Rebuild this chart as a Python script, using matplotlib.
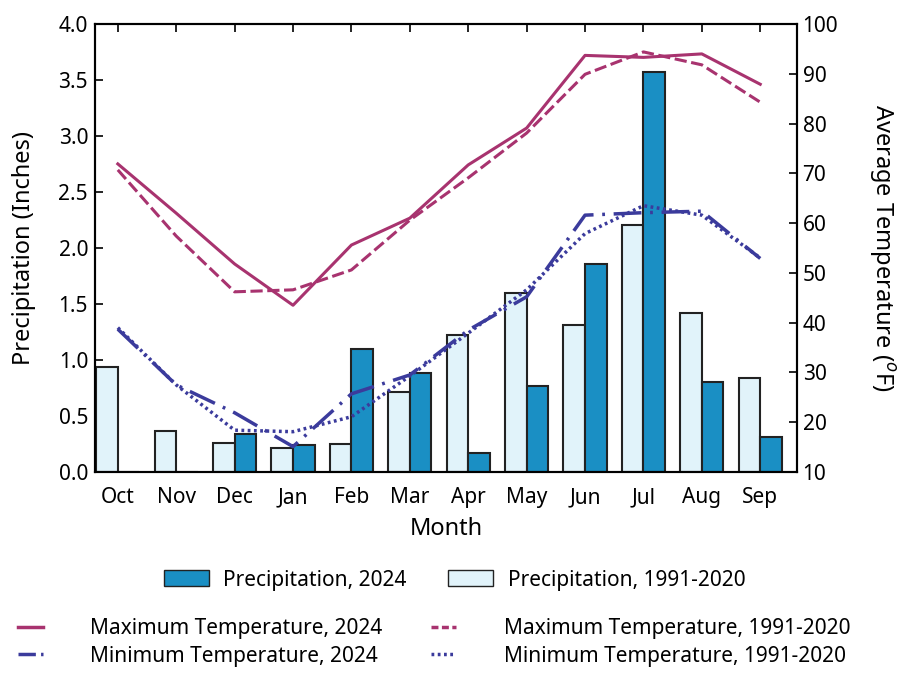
import numpy as np
import matplotlib.pyplot as plt
from matplotlib.lines import Line2D
from matplotlib.patches import Patch

months = ['Oct', 'Nov', 'Dec', 'Jan', 'Feb', 'Mar', 'Apr', 'May', 'Jun', 'Jul', 'Aug', 'Sep']

# precipitation (inches)
precip_2024 = [0.0, 0.0, 0.34, 0.24, 1.10, 0.88, 0.17, 0.77, 1.86, 3.57, 0.80, 0.31]
precip_norm = [0.94, 0.37, 0.26, 0.21, 0.25, 0.71, 1.22, 1.60, 1.31, 2.21, 1.42, 0.84]

# temperatures (F)
tmax_2024 = [71.9, 62.0, 51.8, 43.5, 55.6, 61.0, 71.7, 79.1, 93.7, 93.3, 94.0, 87.9]
tmax_norm = [70.7, 57.4, 46.2, 46.6, 50.6, 60.6, 69.1, 78.1, 89.9, 94.4, 91.8, 84.3]
tmin_2024 = [38.7, 27.5, 21.9, 15.1, 25.7, 29.5, 38.5, 45.2, 61.6, 62.1, 62.4, 52.9]
tmin_norm = [39.0, 27.5, 18.4, 18.1, 21.1, 29.3, 37.9, 46.6, 57.9, 63.5, 61.6, 53.0]

plt.rcParams['font.family'] = ['Noto Sans', 'DejaVu Sans']

c_dark = '#1a8fc4'
c_light = '#e1f3fa'
c_max = '#a8336f'
c_min = '#3b3b9c'
ls_min24 = (0, (8, 2.5, 0.8, 2.5))
ls_min_n = (0, (0.8, 1.0))

x = np.arange(len(months))
w = 0.37

fig = plt.figure(figsize=(9, 6.77), dpi=100)
ax = fig.add_axes([0.1056, 0.3028, 0.78, 0.6617])
ax.bar(x - w/2, precip_norm, w, color=c_light, edgecolor='#222222', linewidth=1.5, zorder=2)
ax.bar(x + w/2, precip_2024, w, color=c_dark, edgecolor='#222222', linewidth=1.5, zorder=2)
ax.set_xlim(-0.39, 11.63)
ax.set_ylim(0, 4.0)
ax.set_yticks(np.arange(0, 4.01, 0.5))
ax.set_yticklabels(['%.1f' % v for v in np.arange(0, 4.01, 0.5)])
ax.set_xticks(x)
ax.set_xticklabels(months)
ax.set_xlabel('Month', fontsize=17, labelpad=6)
ax.set_ylabel('Precipitation (Inches)', fontsize=17, labelpad=16)
ax.tick_params(direction='in', length=6, width=1.2, labelsize=15, top=True)
ax.tick_params(axis='x', pad=11)
ax.tick_params(axis='y', pad=5)

ax2 = ax.twinx()
ax2.plot(x, tmax_2024, color=c_max, lw=2.2, zorder=3)
ax2.plot(x, tmax_norm, color=c_max, lw=2.2, ls=(0, (4, 1.5)), zorder=3)
ax2.plot(x, tmin_2024, color=c_min, lw=2.5, ls=ls_min24, zorder=3)
ax2.plot(x, tmin_norm, color=c_min, lw=2.5, ls=ls_min_n, zorder=3)
ax2.set_ylim(10, 100)
ax2.set_yticks(range(10, 101, 10))
ax2.set_ylabel('Average Temperature ($^o$F)', fontsize=17, rotation=270, labelpad=42)
ax2.tick_params(direction='in', length=6, width=1.2, labelsize=15, pad=4)

for a in (ax, ax2):
    for s in a.spines.values():
        s.set_linewidth(1.5)

bar_handles = [Patch(facecolor=c_dark, edgecolor='#222222', label='Precipitation, 2024'),
               Patch(facecolor=c_light, edgecolor='#222222', label='Precipitation, 1991-2020')]
fig.legend(handles=bar_handles, loc='center', bbox_to_anchor=(0.505, 0.143), ncol=2,
           frameon=False, fontsize=15, handlelength=2.15, handleheight=0.8,
           handletextpad=0.7, columnspacing=2.0)

line_handles = [Line2D([], [], color=c_max, lw=2.5, label='Maximum Temperature, 2024'),
                Line2D([], [], color=c_min, lw=2.5, ls=(0, (5, 1.5, 0.8, 1.5)), label='Minimum Temperature, 2024'),
                Line2D([], [], color=c_max, lw=2.5, ls=(0, (2, 1)), label='Maximum Temperature, 1991-2020'),
                Line2D([], [], color=c_min, lw=2.5, ls=ls_min_n, label='Minimum Temperature, 1991-2020')]
fig.legend(handles=line_handles, loc='center', bbox_to_anchor=(0.482, 0.051), ncol=2,
           frameon=False, fontsize=15, handlelength=1.2, handletextpad=2.3,
           columnspacing=2.3, labelspacing=0.3)

fig.savefig('out.png', dpi=100)
